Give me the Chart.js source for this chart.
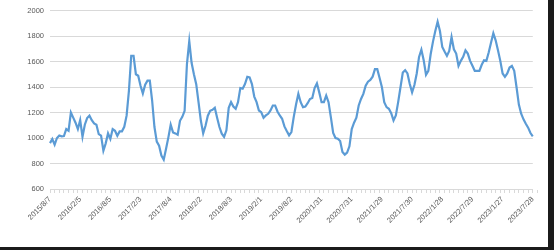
<!DOCTYPE html>
<html>
<head>
<meta charset="utf-8">
<script src="https://cdn.jsdelivr.net/npm/chart.js@4"></script>
<style>
  html, body { margin: 0; padding: 0; background: #1b1b1b; }
  #wrap { width: 548px; height: 247px; background: #fff; position: relative; }
</style>
</head>
<body>
<div id="wrap"><canvas id="chart" width="548" height="247"></canvas></div>
<script>
// biweekly readings, first one on 2015/8/7
const startDate = [2015, 8, 7];
const stepDays = 14;

const tickLabels = [
  '2015/8/7', '2016/2/5', '2016/8/5', '2017/2/3', '2017/8/4', '2018/2/2',
  '2018/8/3', '2019/2/1', '2019/8/2', '2020/1/31', '2020/7/31', '2021/1/29',
  '2021/7/30', '2022/1/28', '2022/7/29', '2023/1/27', '2023/7/28'
];

const values = [
  960, 992, 948, 1000, 1020, 1013, 1015, 1070, 1057, 1200,
  1160, 1120, 1070, 1140, 1010, 1104, 1156, 1175, 1140, 1114,
  1104, 1030, 1018, 900, 958, 1036, 992, 1070, 1057, 1018,
  1052, 1052, 1088, 1175, 1370, 1645, 1645, 1500, 1488, 1410,
  1350, 1418, 1450, 1450, 1294, 1086, 972, 940, 862, 830,
  915, 1005, 1104, 1044, 1036, 1026, 1135, 1166, 1213, 1580,
  1760, 1590, 1500, 1422, 1280, 1135, 1036, 1096, 1175, 1213,
  1221, 1237, 1159, 1086, 1034, 1008, 1060, 1237, 1281, 1247,
  1229, 1281, 1392, 1387, 1423, 1480, 1475, 1423, 1325, 1281,
  1216, 1203, 1159, 1177, 1190, 1216, 1255, 1255, 1208, 1177,
  1151, 1091, 1055, 1021, 1047, 1164, 1263, 1346, 1281, 1242,
  1247, 1273, 1306, 1314, 1392, 1429, 1358, 1281, 1281, 1333,
  1281, 1164, 1039, 1000, 995, 977, 891, 870, 886, 935,
  1070, 1120, 1159, 1255, 1306, 1346, 1411, 1442, 1455, 1481,
  1540, 1540, 1470, 1398, 1281, 1242, 1229, 1195, 1138, 1177,
  1281, 1398, 1514, 1532, 1506, 1423, 1358, 1416, 1506, 1636,
  1693, 1610, 1496, 1527, 1657, 1756, 1839, 1912, 1839, 1714,
  1678, 1644, 1683, 1792, 1696, 1662, 1566, 1605, 1636, 1688,
  1662, 1605, 1566, 1527, 1527, 1527, 1574, 1610, 1605, 1670,
  1748, 1821, 1766, 1688, 1605, 1506, 1480, 1506, 1553, 1566,
  1527, 1398, 1262, 1190, 1146, 1112, 1081, 1039, 1013
];

function buildDates(n){
  const dates = [];
  const t0 = Date.UTC(startDate[0], startDate[1] - 1, startDate[2]);
  for(let i = 0; i < n; i++){
    const d = new Date(t0 + i * stepDays * 86400000);
    dates.push(d.getUTCFullYear() + '/' + (d.getUTCMonth() + 1) + '/' + d.getUTCDate());
  }
  return dates;
}

const labels = buildDates(values.length);
const labelEvery = 13;   // 26 weeks
const tickEvery = 2;     // small tick marks every 4 weeks
const axisFont = { family: 'Liberation Sans', size: 7.5 };
const textColor = '#595959';
const gridColor = '#d9d9d9';

new Chart(document.getElementById('chart'), {
  type: 'line',
  data: {
    labels: labels,
    datasets: [{
      data: values,
      borderColor: '#5b9bd5',
      borderWidth: 2.2,
      pointRadius: 0,
      tension: 0,
      fill: false
    }]
  },
  options: {
    responsive: false,
    animation: false,
    events: [],
    layout: { padding: { top: 9, right: 8, left: 0, bottom: 0 } },
    plugins: { legend: { display: false }, tooltip: { enabled: false } },
    scales: {
      x: {
        type: 'category',
        offset: false,
        afterDataLimits: (scale) => { scale.max = scale.max + 3; },
        afterFit: (scale) => { scale.height = 58; },
        border: { display: true, color: gridColor, width: 1 },
        grid: {
          drawOnChartArea: false,
          drawTicks: true,
          tickLength: 4,
          tickColor: (ctx) => (ctx.index % tickEvery === 0 ? gridColor : 'rgba(0,0,0,0)')
        },
        ticks: {
          autoSkip: false,
          maxRotation: 45,
          minRotation: 45,
          padding: 2,
          color: textColor,
          font: axisFont,
          callback: (value, index) => (index % labelEvery === 0 ? (tickLabels[index / labelEvery] || '') : '')
        }
      },
      y: {
        min: 600,
        max: 2000,
        afterFit: (scale) => { scale.width = 50; },
        border: { display: false },
        grid: { color: gridColor, lineWidth: 1, drawTicks: false },
        ticks: {
          stepSize: 200,
          padding: 6,
          color: textColor,
          font: axisFont,
          callback: (value) => String(value)
        }
      }
    }
  }
});
</script>
</body>
</html>
